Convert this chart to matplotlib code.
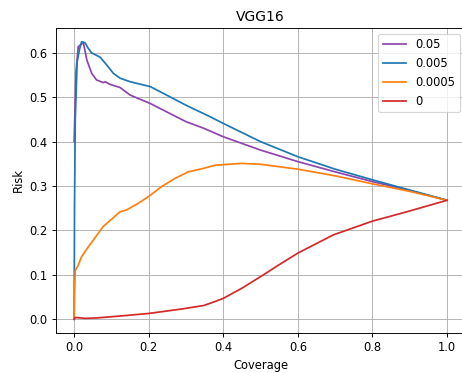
import matplotlib
matplotlib.use("Agg")
import matplotlib.pyplot as plt

# risk-coverage curves
cov_005 = [0.0, 0.005, 0.011, 0.02, 0.025, 0.034, 0.047, 0.06, 0.078, 0.083, 0.096,
           0.123, 0.15, 0.204, 0.26, 0.30, 0.348, 0.40, 0.50, 0.60, 0.70, 0.80, 0.90, 1.0]
risk_005 = [0.40, 0.558, 0.614, 0.62, 0.622, 0.584, 0.554, 0.539, 0.533, 0.535, 0.529,
            0.522, 0.505, 0.486, 0.462, 0.445, 0.43, 0.411, 0.381, 0.355, 0.332, 0.31, 0.29, 0.268]

cov_0005 = [0.0, 0.001, 0.003, 0.008, 0.015, 0.02, 0.029, 0.038, 0.047, 0.07, 0.087,
            0.105, 0.123, 0.15, 0.204, 0.257, 0.30, 0.365, 0.40, 0.50, 0.60, 0.70, 0.80, 0.90, 1.0]
risk_0005 = [0.0, 0.25, 0.45, 0.58, 0.61, 0.625, 0.623, 0.61, 0.60, 0.59, 0.573,
             0.554, 0.543, 0.535, 0.524, 0.501, 0.482, 0.456, 0.441, 0.40, 0.366, 0.338, 0.314, 0.291, 0.268]

cov_00005 = [0.0, 0.001, 0.003, 0.01, 0.02, 0.038, 0.065, 0.078, 0.10, 0.123, 0.14,
             0.17, 0.199, 0.235, 0.27, 0.306, 0.348, 0.378, 0.45, 0.50, 0.60, 0.70, 0.80, 0.90, 1.0]
risk_00005 = [0.0, 0.06, 0.11, 0.12, 0.141, 0.163, 0.194, 0.209, 0.225, 0.242, 0.246,
              0.26, 0.276, 0.299, 0.317, 0.332, 0.34, 0.347, 0.351, 0.349, 0.338, 0.323, 0.305, 0.288, 0.268]

cov_0 = [0.0, 0.003, 0.03, 0.061, 0.12, 0.2, 0.288, 0.348, 0.378, 0.40, 0.45,
         0.50, 0.55, 0.60, 0.695, 0.80, 0.892, 1.0]
risk_0 = [0.0, 0.004, 0.002, 0.003, 0.007, 0.013, 0.023, 0.031, 0.04, 0.047, 0.07,
          0.096, 0.123, 0.149, 0.19, 0.221, 0.242, 0.268]

dpi = 83
fig = plt.figure(figsize=(462 / dpi, 373 / dpi), dpi=dpi)
ax = fig.add_axes([55.5 / 462, 40 / 373, 410.2 / 462, 305 / 373])

ax.plot(cov_005, risk_005, color="#8e44ad", label="0.05")
ax.plot(cov_0005, risk_0005, color="tab:blue", label="0.005")
ax.plot(cov_00005, risk_00005, color="tab:orange", label="0.0005")
ax.plot(cov_0, risk_0, color="tab:red", label="0")

ax.set_xlim(-0.05, 1.05)
ax.set_ylim(-0.031, 0.656)
ax.grid(True)
ax.set_title("VGG16")
ax.set_xlabel("Coverage")
ax.set_ylabel("Risk")
ax.legend(loc="upper right")

fig.savefig("out.png", dpi=dpi)
